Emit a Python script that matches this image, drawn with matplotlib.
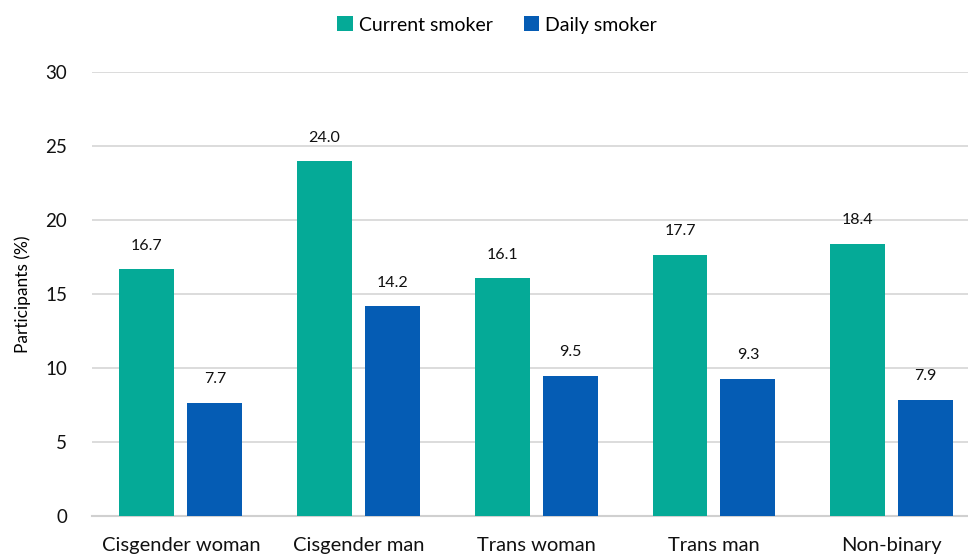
import matplotlib.pyplot as plt
import numpy as np

plt.rcParams['font.family'] = ['Lato', 'DejaVu Sans']

categories = ["Cisgender woman", "Cisgender man", "Trans woman", "Trans man", "Non-binary"]
current_smoker = [16.7, 24.0, 16.1, 17.7, 18.4]
daily_smoker = [7.7, 14.2, 9.5, 9.3, 7.9]
series_names = ["Current smoker", "Daily smoker"]
colors = ["#05AA97", "#055CB4"]

fig = plt.figure(figsize=(9.68, 5.55), dpi=100)
ax = fig.add_axes([0.095, 0.0694, 0.918, 0.80])

x = np.arange(len(categories))
bar_w = 55 / 177.75
offset = (55 + 13) / 2 / 177.75

bars1 = ax.bar(x - offset, current_smoker, bar_w, color=colors[0], label=series_names[0], zorder=3)
bars2 = ax.bar(x + offset, daily_smoker, bar_w, color=colors[1], label=series_names[1], zorder=3)

for bars in (bars1, bars2):
    for b in bars:
        ax.annotate(f"{b.get_height():.1f}", (b.get_x() + b.get_width() / 2, b.get_height()),
                    xytext=(0, 12), textcoords="offset points", ha="center", va="bottom",
                    fontsize=11.5, color="#111111")

ax.set_xlim(-0.5, 4.5)
ax.set_ylim(0, 30)
ax.set_yticks(range(0, 31, 5))
ax.set_xticks(x)
ax.set_xticklabels(categories, fontsize=14.5, color="#111111")
ax.tick_params(axis="y", labelsize=13.5, length=0, pad=18, labelcolor="#111111")
ax.tick_params(axis="x", length=0, pad=15)
ax.yaxis.grid(True, color="#d9d9d9", linewidth=1.3, zorder=0)
ax.set_axisbelow(True)
for s in ["top", "right", "left"]:
    ax.spines[s].set_visible(False)
ax.spines["bottom"].set_color("#d0d0d0")
ax.spines["bottom"].set_linewidth(1.5)
ax.set_ylabel("Participants (%)", fontsize=12.5, labelpad=10)

fig.legend(loc="center", bbox_to_anchor=(497 / 968, 1 - 25 / 555), ncol=2, frameon=False,
           fontsize=14, handlelength=0.8, handleheight=0.8, handletextpad=0.3, columnspacing=1.6)

fig.savefig("out.png", dpi=100)
